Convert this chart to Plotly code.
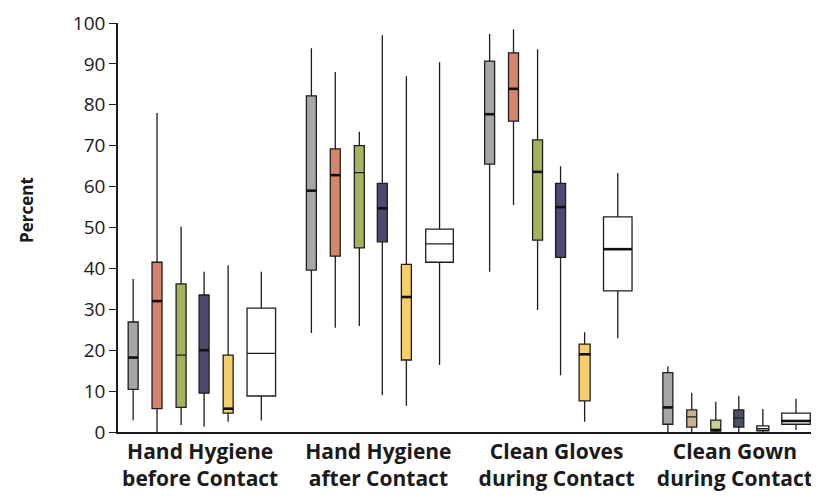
import plotly.graph_objects as go

categories = ["Hand Hygiene<br>before Contact", "Hand Hygiene<br>after Contact",
              "Clean Gloves<br>during Contact", "Clean Gown<br>during Contact"]
series = ["S1", "S2", "S3", "S4", "S5", "S6"]

# per series: values for the 4 categories
upper = [[37.4, 93.8, 97.3, 16.1],
         [78.0, 88.0, 98.5, 9.6],
         [50.2, 73.4, 93.6, 7.4],
         [39.2, 97.0, 65.0, 8.8],
         [40.8, 87.0, 24.4, 5.6],
         [39.2, 90.4, 63.3, 8.1]]
q3 = [[26.9, 82.2, 90.7, 14.5],
      [41.5, 69.2, 92.7, 5.4],
      [36.2, 70.0, 71.4, 2.9],
      [33.5, 60.8, 60.8, 5.4],
      [18.8, 41.0, 21.5, 1.5],
      [30.3, 49.6, 52.6, 4.6]]
median = [[18.2, 59.0, 77.7, 6.0],
          [32.0, 62.8, 83.9, 3.7],
          [18.8, 63.4, 63.6, 0.5],
          [20.0, 54.7, 55.0, 3.4],
          [5.7, 33.0, 19.0, 0.8],
          [19.2, 46.0, 44.7, 2.7]]
q1 = [[10.4, 39.6, 65.5, 1.9],
      [5.7, 43.0, 76.0, 1.2],
      [6.0, 45.0, 46.9, 0.2],
      [9.5, 46.5, 42.7, 1.2],
      [4.6, 17.6, 7.6, 0.3],
      [8.8, 41.5, 34.5, 1.9]]
lower = [[2.9, 24.2, 39.2, 0.0],
         [0.0, 25.5, 55.5, 0.0],
         [1.7, 25.9, 29.8, 0.0],
         [1.3, 9.0, 13.9, 0.0],
         [2.5, 6.4, 2.5, 0.0],
         [2.8, 16.4, 22.9, 0.5]]

y_ticks = [0, 10, 20, 30, 40, 50, 60, 70, 80, 90, 100]

# styling
fills = [["#a4a6a8"] * 4,
         ["#d4856a", "#d4856a", "#d4856a", "#cdb08e"],
         ["#a2b45e", "#a2b45e", "#a2b45e", "#c8d192"],
         ["#4c4b6f", "#4c4b6f", "#4c4b6f", "#4a5062"],
         ["#f6cf6c", "#f6cf6c", "#f6cf6c", "#ffffff"],
         ["#ffffff"] * 4]
offsets = [-0.376, -0.242, -0.107, 0.022, 0.157, 0.343]
widths = [[0.056] * 4, [0.056] * 4, [0.056] * 4, [0.056] * 4,
          [0.056, 0.056, 0.062, 0.068], [0.16, 0.155, 0.16, 0.16]]
bold_median = [[True, True, True, True],
               [True, True, True, False],
               [False, False, True, True],
               [True, True, True, False],
               [True, True, True, False],
               [False, False, True, True]]

fig = go.Figure()
for s in range(len(series)):
    for g in range(len(categories)):
        xpos = g + offsets[s]
        fig.add_trace(go.Box(
            x=[xpos], q1=[q1[s][g]], median=[median[s][g]], q3=[q3[s][g]],
            lowerfence=[lower[s][g]], upperfence=[upper[s][g]],
            width=widths[s][g], whiskerwidth=0, boxpoints=False,
            fillcolor=fills[s][g], line=dict(color="#1e1e1e", width=1.3),
            showlegend=False, hoverinfo="skip"))
        if bold_median[s][g]:
            w = widths[s][g] / 2
            fig.add_trace(go.Scatter(
                x=[xpos - w, xpos + w], y=[median[s][g]] * 2, mode="lines",
                line=dict(color="#111111", width=2.6), showlegend=False,
                hoverinfo="skip"))

# the page body has an 8px margin, so the figure is sized to fit inside it
fig.update_layout(
    width=811, height=488,
    margin=dict(l=110, r=0, t=15, b=64),
    paper_bgcolor="white", plot_bgcolor="white",
    font=dict(family="Open Sans", color="#1a1a1a"),
    xaxis=dict(range=[-0.461, 3.472], tickmode="array", automargin=False,
               tickvals=list(range(len(categories))), ticktext=[f"<b>{c}</b>" for c in categories],
               showgrid=False, zeroline=False, showline=True, linecolor="#1a1a1a",
               linewidth=1.5, ticks="", tickfont=dict(size=21, color="#1a1a1a")),
    yaxis=dict(range=[0, 100], tickmode="array", tickvals=y_ticks, automargin=False,
               showgrid=False, zeroline=False, showline=True, linecolor="#1a1a1a",
               linewidth=1.5, ticks="outside", ticklen=7, tickwidth=1.3,
               tickcolor="#1a1a1a", tickfont=dict(size=19, color="#1a1a1a")),
    annotations=[dict(text="<b>Percent</b>", xref="paper", yref="paper",
                      x=(26 - 118) / 701, y=(432 - 210) / 409, textangle=-90,
                      xanchor="center", yanchor="middle",
                      showarrow=False, font=dict(size=17, color="#1a1a1a"))],
)

fig.write_html("out.html")
